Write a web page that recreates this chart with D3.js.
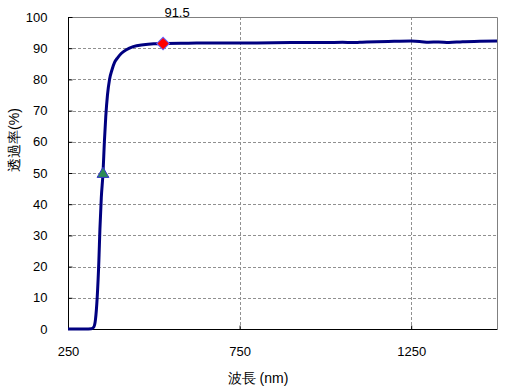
<!DOCTYPE html>
<html>
<head>
<meta charset="utf-8">
<script src="https://cdnjs.cloudflare.com/ajax/libs/d3/7.8.5/d3.min.js"></script>
<style>
body { margin: 0; background: #fff; }
text { font-family: "Liberation Sans", Arial, sans-serif; }
</style>
</head>
<body>
<script>
// wavelength (nm) and transmittance (%)
var wavelength = [250, 300, 318, 325, 330, 335, 340, 343, 347, 352, 356, 360, 365, 371, 378, 386, 395, 405, 420, 440, 470, 500, 527, 600, 700, 800, 900, 1000, 1050, 1080, 1100, 1120, 1150, 1200, 1250, 1280, 1300, 1330, 1360, 1400, 1450, 1500];
var transmit   = [0, 0, 0.1, 0.6, 3, 10, 22, 32, 42, 50, 60, 68, 75, 80, 83, 85.5, 87, 88.3, 89.5, 90.5, 91.1, 91.4, 91.5, 91.6, 91.7, 91.7, 91.8, 91.8, 91.9, 91.8, 91.9, 92.0, 92.1, 92.2, 92.3, 92.1, 91.9, 92.0, 91.8, 92.1, 92.2, 92.3];
var xTicks = [250, 750, 1250];
var yTicks = [0, 10, 20, 30, 40, 50, 60, 70, 80, 90, 100];
var halfPoint = [352, 50];
var peakPoint = [527, 91.5];
var peakLabel = "91.5";

var W = 521, H = 389;
var pLeft = 68, pRight = 497, pTop = 17, pBottom = 329;

var svg = d3.select("body").append("svg").attr("width", W).attr("height", H);

var x = d3.scaleLinear().domain([250, 1500]).range([pLeft, pRight]);
var y = d3.scaleLinear().domain([0, 100]).range([pBottom, pTop]);

// grid
svg.selectAll(".hg").data(yTicks.filter(function(d){ return d > 0 && d < 100; })).enter().append("line")
    .attr("x1", pLeft).attr("x2", pRight)
    .attr("y1", function(d){ return Math.round(y(d)) + 0.5; }).attr("y2", function(d){ return Math.round(y(d)) + 0.5; })
    .attr("stroke", "#909090").attr("stroke-dasharray", "3,2");
svg.selectAll(".vg").data(xTicks.filter(function(d){ return d > 250; })).enter().append("line")
    .attr("x1", function(d){ return Math.round(x(d)) + 0.5; }).attr("x2", function(d){ return Math.round(x(d)) + 0.5; })
    .attr("y1", pTop).attr("y2", pBottom)
    .attr("stroke", "#909090").attr("stroke-dasharray", "3,2");

// frame: gray top/right
svg.append("path").attr("d", "M" + pLeft + "," + (pTop + 0.5) + "H" + (pRight + 0.5) + "V" + pBottom)
    .attr("fill", "none").attr("stroke", "#808080");

// axes
var yAxis = d3.axisLeft(y).tickValues(yTicks).tickSize(-4).tickPadding(21);
var gy = svg.append("g").attr("transform", "translate(" + (pLeft + 0.5) + ",0)").call(yAxis);
gy.select(".domain").remove();
gy.append("line").attr("y1", pTop).attr("y2", pBottom + 0.5).attr("stroke", "#000");

var xAxis = d3.axisBottom(x).tickValues(xTicks).tickFormat(d3.format("d")).tickSize(-4).tickPadding(17);
var gx = svg.append("g").attr("transform", "translate(0," + (pBottom + 0.5) + ")").call(xAxis);
gx.select(".domain").remove();
gx.append("line").attr("x1", pLeft).attr("x2", pRight + 0.5).attr("stroke", "#000");

svg.selectAll(".tick text").attr("font-size", 13).attr("fill", "#000")
    .attr("font-family", "'Liberation Sans', Arial, sans-serif");

// curve
var line = d3.line().x(function(d){ return x(d[0]); }).y(function(d){ return y(d[1]); }).curve(d3.curveMonotoneX);
svg.append("path").datum(d3.zip(wavelength, transmit)).attr("d", line)
    .attr("fill", "none").attr("stroke", "#000080").attr("stroke-width", 3).attr("stroke-linejoin", "round");

// markers
svg.append("path").attr("d", d3.symbol().type(d3.symbolTriangle).size(60)())
    .attr("transform", "translate(" + x(halfPoint[0]) + "," + (y(halfPoint[1]) + 1) + ")")
    .attr("fill", "#2e8b57").attr("stroke", "#3333cc").attr("stroke-width", 1);
svg.append("path").attr("d", d3.symbol().type(d3.symbolSquare).size(80)())
    .attr("transform", "translate(" + x(peakPoint[0]) + "," + y(peakPoint[1]) + ") rotate(45)")
    .attr("fill", "#ff0000").attr("stroke", "#6666ff").attr("stroke-width", 1);
svg.append("text").attr("x", x(peakPoint[0]) + 14).attr("y", 17)
    .attr("text-anchor", "middle").attr("font-size", 13).text(peakLabel);

// titles
svg.append("text").attr("x", 258).attr("y", 383).attr("text-anchor", "middle")
    .attr("font-size", 14).attr("font-family", "'Noto Sans CJK JP', sans-serif").text("波長 (nm)");
svg.append("text").attr("transform", "translate(19,140) rotate(-90)").attr("text-anchor", "middle")
    .attr("font-size", 14).attr("font-family", "'Noto Sans CJK JP', sans-serif").text("透過率(%)");
</script>
</body>
</html>
